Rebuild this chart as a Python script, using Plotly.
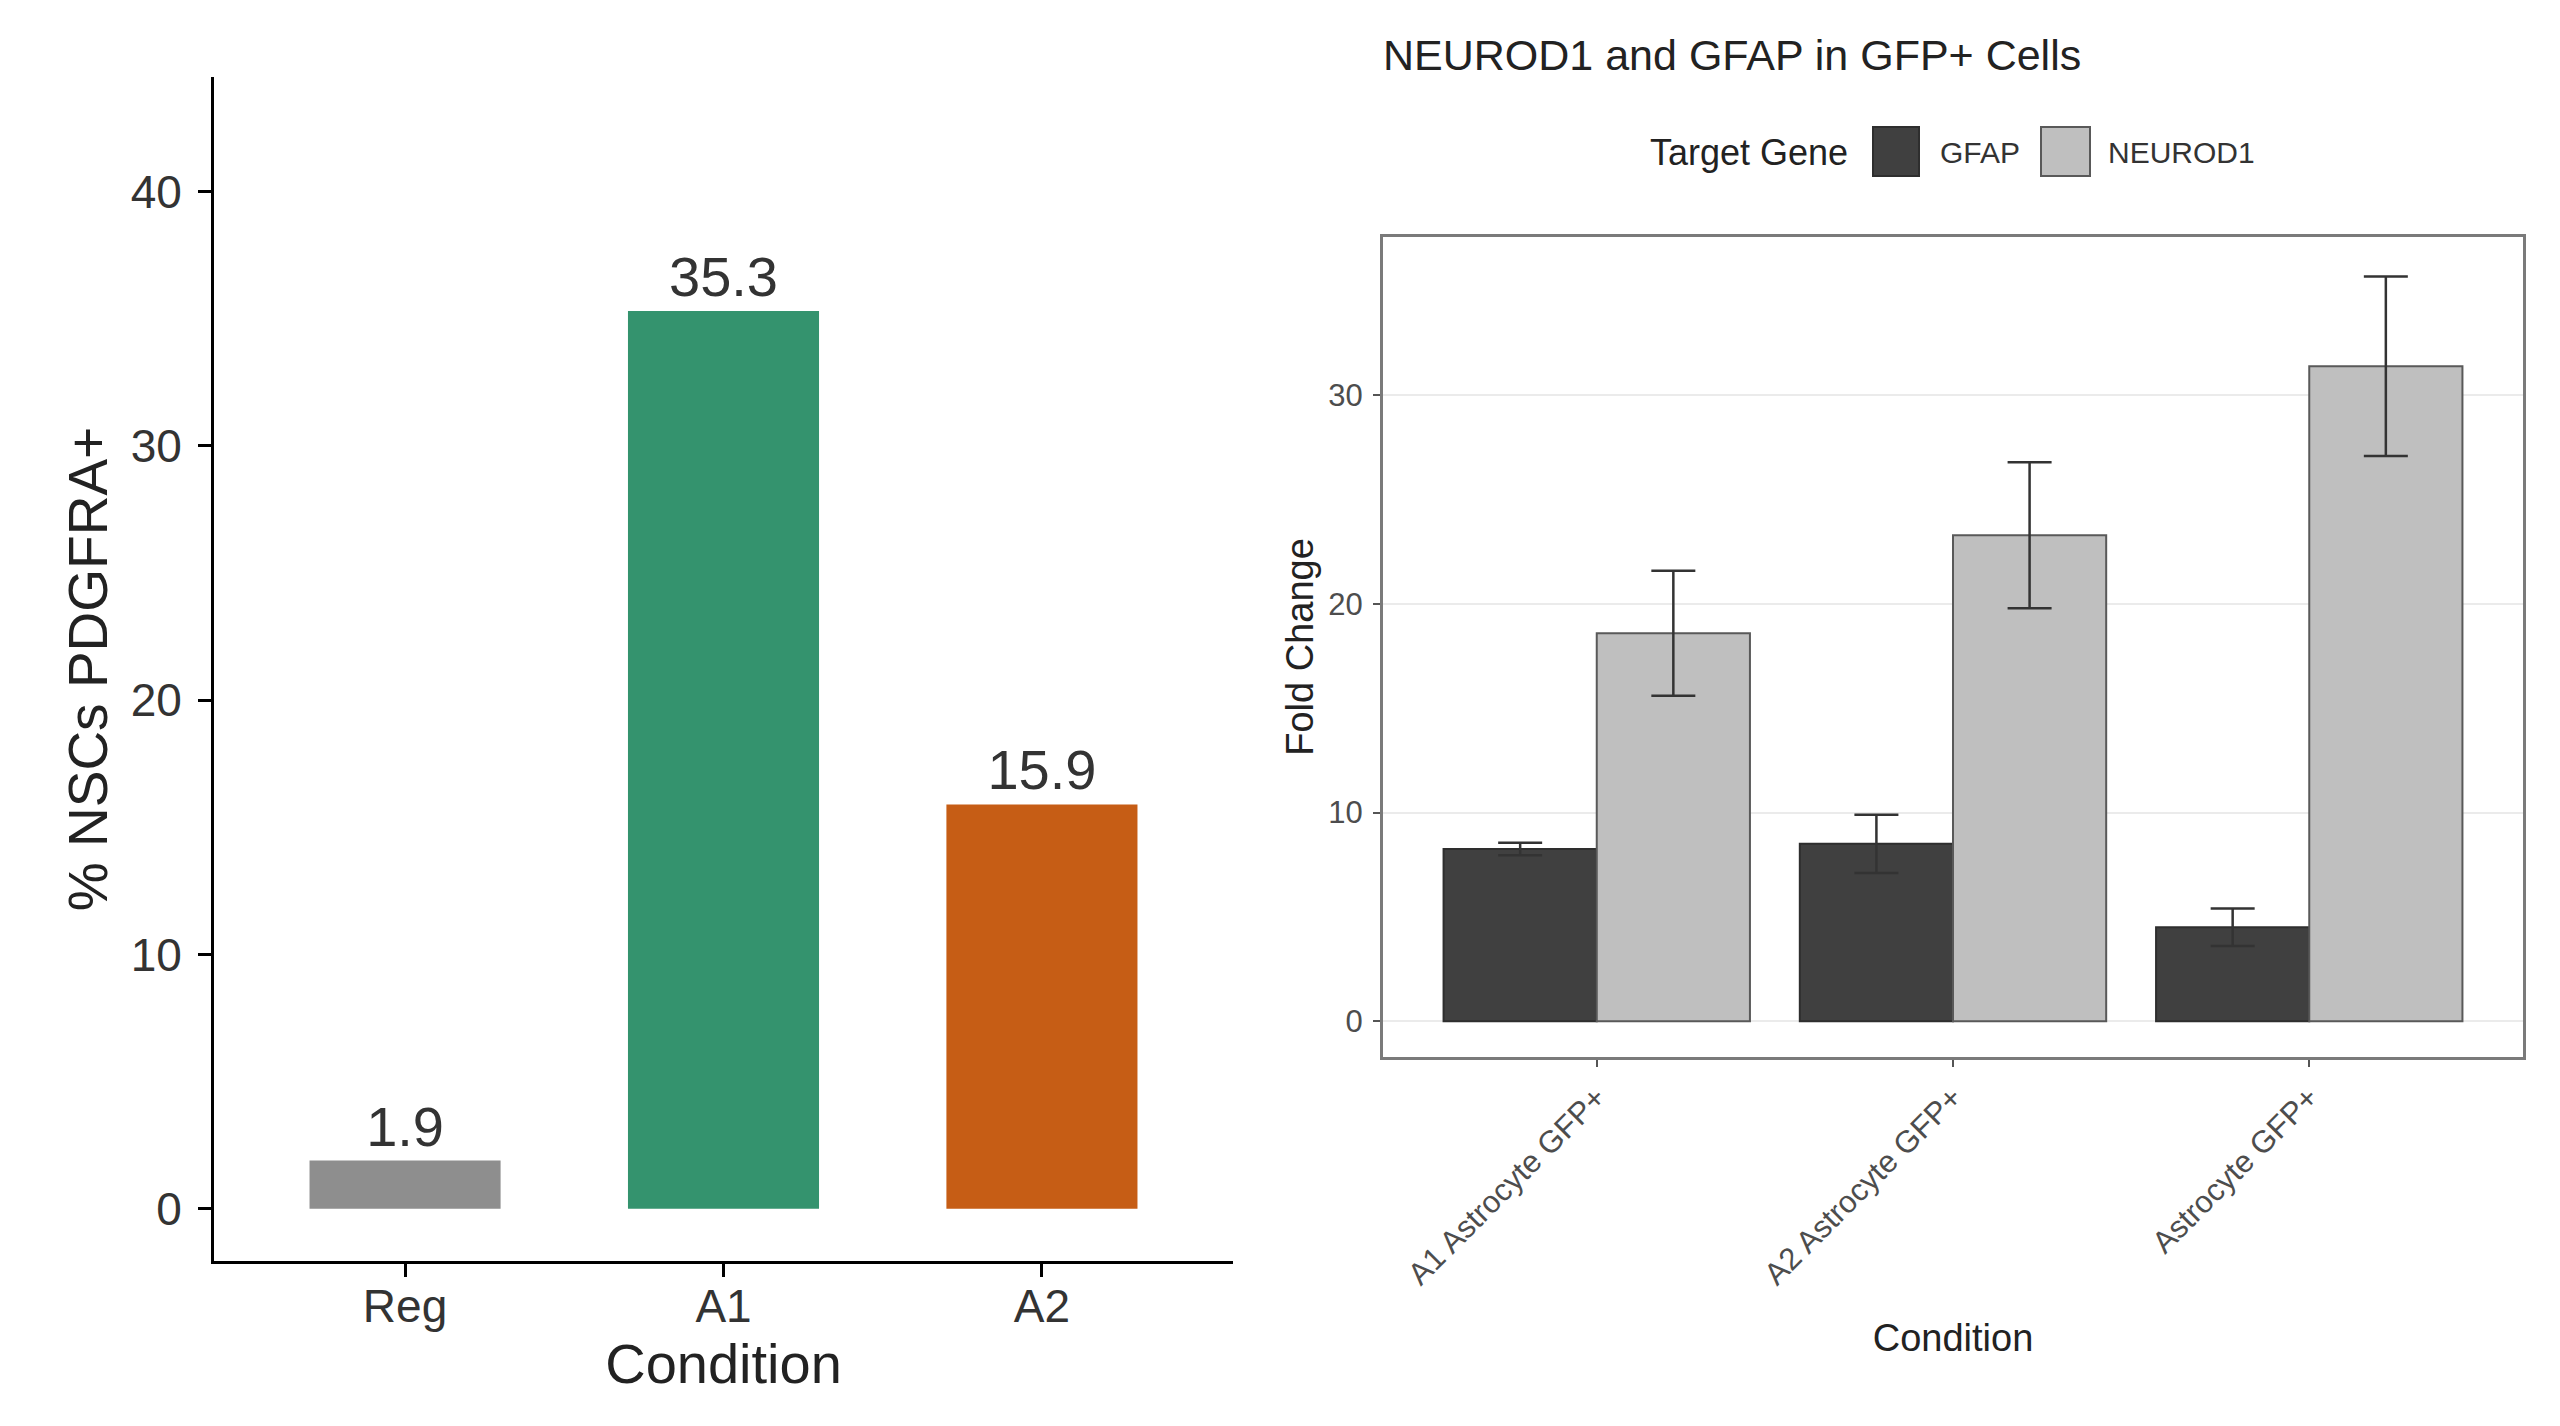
import plotly.graph_objects as go

W, H = 2560, 1426
FONT = "Liberation Sans"

# left panel: share of NSCs that are PDGFRA+
conditions = ["Reg", "A1", "A2"]
pct_pdgfra = [1.9, 35.3, 15.9]
condition_colors = ["#8E8E8E", "#34936E", "#C65D15"]

# right panel: fold change in GFP+ cells
cells = ["A1 Astrocyte GFP+", "A2 Astrocyte GFP+", "Astrocyte GFP+"]
genes = ["GFAP", "NEUROD1"]
fold_gfap = [8.25, 8.5, 4.5]
err_gfap = [0.3, 1.4, 0.9]
fold_neurod1 = [18.6, 23.3, 31.4]
err_neurod1 = [3.0, 3.5, 4.3]
gene_fill = ["#404040", "#BFBFBF"]
gene_line = ["#2E2E2E", "#595959"]


def fx(p):
    return p / W


def fy(p):
    return 1 - p / H


fig = go.Figure()

fig.add_bar(
    x=conditions,
    y=pct_pdgfra,
    width=0.6,
    marker=dict(color=condition_colors, line=dict(width=0)),
    text=[f"{v:.1f}" for v in pct_pdgfra],
    textposition="outside",
    textfont=dict(size=56, color="#333333"),
    constraintext="none",
    cliponaxis=False,
    xaxis="x",
    yaxis="y",
    showlegend=False,
)

for name, vals, errs, fill, line in zip(
    genes, [fold_gfap, fold_neurod1], [err_gfap, err_neurod1], gene_fill, gene_line
):
    fig.add_bar(
        x=cells,
        y=vals,
        name=name,
        marker=dict(color=fill, line=dict(color=line, width=2)),
        error_y=dict(type="data", array=errs, color="#333333", thickness=2.5, width=22),
        xaxis="x2",
        yaxis="y2",
        showlegend=False,
    )

left_axis = dict(
    showline=True,
    linecolor="black",
    linewidth=3,
    ticks="outside",
    ticklen=13,
    tickwidth=3,
    tickcolor="black",
    tickfont=dict(size=46, color="#333333"),
    showgrid=False,
    zeroline=False,
)
fig.update_layout(
    xaxis=dict(
        left_axis,
        domain=[fx(214), fx(1233)],
        anchor="y",
        range=[-0.6, 2.6],
        ticklabelstandoff=-10,
        title=dict(text="Condition", font=dict(size=56, color="#222222"), standoff=8),
    ),
    yaxis=dict(
        left_axis,
        domain=[fy(1261), fy(77)],
        anchor="x",
        range=[-2.05, 44.5],
        tickvals=[0, 10, 20, 30, 40],
        ticklabelstandoff=7,
        title=dict(text="% NSCs PDGFRA+", font=dict(size=55, color="#222222"), standoff=6),
    ),
)

right_axis = dict(
    showline=True,
    mirror=True,
    linecolor="#7A7A7A",
    linewidth=3,
    ticks="outside",
    ticklen=7,
    tickwidth=2,
    tickcolor="#555555",
    tickfont=dict(size=31, color="#4D4D4D"),
    zeroline=False,
)
fig.update_layout(
    xaxis2=dict(
        right_axis,
        domain=[fx(1383), fx(2523)],
        anchor="y2",
        range=[-0.6, 2.6],
        tickangle=-45,
        showgrid=False,
        title=dict(text="Condition", font=dict(size=38, color="#222222"), standoff=34),
    ),
    yaxis2=dict(
        right_axis,
        domain=[fy(1057), fy(237)],
        anchor="x2",
        range=[-1.72, 37.6],
        tickvals=[0, 10, 20, 30],
        showgrid=True,
        gridcolor="#EBEBEB",
        gridwidth=2,
        ticklabelstandoff=4,
        title=dict(text="Fold Change", font=dict(size=38, color="#222222"), standoff=4),
    ),
)

# legend for the right panel, drawn like ggplot's top legend
legend_y0, legend_y1 = fy(176), fy(127)
boxes = [(1873, 1919), (2041, 2090)]
labels_x = [1938, 2106]
fig.add_annotation(
    x=fx(1850), y=fy(152), xref="paper", yref="paper", text="Target Gene",
    showarrow=False, xanchor="right", yanchor="middle",
    font=dict(size=36, color="#222222"),
)
for gene, (x0, x1), lx, fill, line in zip(genes, boxes, labels_x, gene_fill, gene_line):
    fig.add_shape(
        type="rect", xref="paper", yref="paper",
        x0=fx(x0), x1=fx(x1), y0=legend_y0, y1=legend_y1,
        fillcolor=fill, line=dict(color=line, width=2),
    )
    fig.add_annotation(
        x=fx(lx), y=fy(152), xref="paper", yref="paper", text=gene,
        showarrow=False, xanchor="left", yanchor="middle",
        font=dict(size=30, color="#333333"),
    )

fig.update_layout(
    width=W,
    height=H,
    margin=dict(l=0, r=0, t=0, b=0),
    barmode="group",
    bargap=0.14,
    bargroupgap=0,
    plot_bgcolor="white",
    paper_bgcolor="white",
    font=dict(family=FONT, color="#222222"),
    title=dict(
        text="NEUROD1 and GFAP in GFP+ Cells",
        x=fx(1383), xanchor="left", xref="paper",
        y=fy(55), yanchor="middle", yref="paper",
        font=dict(size=43, color="#222222"),
    ),
    showlegend=False,
)

fig.write_html(
    "out.html",
    config={"displayModeBar": False},
    post_script="document.body.style.margin='0';document.body.style.overflow='hidden';",
)
